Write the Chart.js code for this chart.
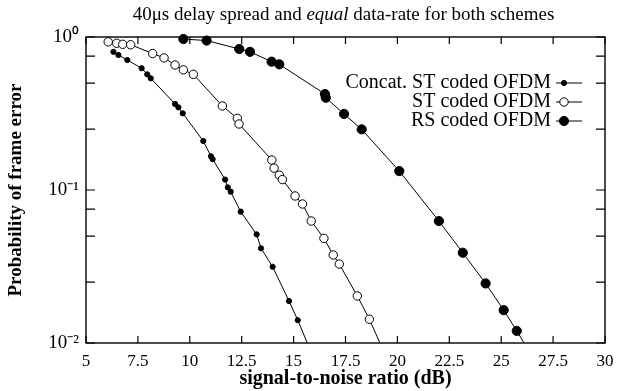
<!DOCTYPE html>
<html>
<head>
<meta charset="utf-8">
<script src="https://cdn.jsdelivr.net/npm/chart.js@4/dist/chart.umd.min.js"></script>
<style>
html,body{margin:0;padding:0;background:#fff;}
#wrap{width:622px;height:391px;position:relative;}
</style>
</head>
<body>
<div id="wrap"><canvas id="c" width="622" height="391"></canvas></div>
<script>
// ---- data ----
const concatSNR = [6.32, 6.56, 6.99, 7.68, 7.95, 8.12, 9.29, 9.45, 9.66, 10.65, 11.02, 11.10, 11.70, 11.83, 11.97, 12.45, 13.22, 13.43, 13.99, 14.78, 15.20];
const concatPFE = [0.80, 0.763, 0.707, 0.625, 0.570, 0.537, 0.365, 0.347, 0.317, 0.209, 0.166, 0.159, 0.117, 0.104, 0.0975, 0.0722, 0.0513, 0.0416, 0.0315, 0.0188, 0.0141];
const stSNR = [6.07, 6.48, 6.77, 7.15, 8.21, 8.76, 9.29, 9.69, 10.17, 11.57, 12.29, 12.37, 13.95, 14.06, 14.31, 14.46, 15.07, 15.43, 15.85, 16.46, 16.91, 17.20, 18.07, 18.65];
const stPFE = [0.93, 0.91, 0.896, 0.89, 0.78, 0.73, 0.656, 0.61, 0.57, 0.354, 0.294, 0.27, 0.157, 0.139, 0.125, 0.117, 0.0914, 0.081, 0.0627, 0.0483, 0.0376, 0.0328, 0.0203, 0.0143];
const rsSNR = [9.69, 10.81, 12.38, 12.90, 13.94, 14.31, 16.51, 16.55, 17.43, 18.28, 20.09, 22.00, 23.15, 24.25, 25.12, 25.75];
const rsPFE = [0.97, 0.948, 0.835, 0.80, 0.69, 0.663, 0.424, 0.401, 0.314, 0.249, 0.133, 0.0627, 0.0389, 0.0245, 0.0164, 0.012];
// where each fitted curve leaves the plot at the bottom edge (SNR at PFE = 0.01)
const curveEndSNR = [15.66, 19.16, 26.10];
const curveEndPFE = 0.01;

const seriesLabels = ['Concat. ST coded OFDM', 'ST coded OFDM', 'RS coded OFDM'];
const xTickValues = [5, 7.5, 10, 12.5, 15, 17.5, 20, 22.5, 25, 27.5, 30];
const yMajorTicks = [1, 0.1, 0.01];
const yMajorLabels = ['10\u2070', '10\u207B\u00B9', '10\u207B\u00B2'];
const yMinorTicks = [0.75, 0.5, 0.25, 0.075, 0.05, 0.025];
const titleParts = [
  { text: '40\u03BCs delay spread and ', italic: false },
  { text: 'equal', italic: true },
  { text: ' data-rate for both schemes', italic: false }
];
const xTitle = 'signal-to-noise ratio (dB)';
const yTitle = 'Probability of frame error';

// ---- styling ----
const FONT = "'Liberation Serif', 'Times New Roman', serif";
const markerStyles = [
  { r: 2.6, fill: '#000', bw: 1 },
  { r: 4.2, fill: '#fff', bw: 1 },
  { r: 4.6, fill: '#000', bw: 1 }
];

function makeSeries(i, xs, ys) {
  const pts = xs.map((x, k) => ({ x: x, y: ys[k] }));
  pts.push({ x: curveEndSNR[i], y: curveEndPFE });
  const st = markerStyles[i];
  const last = pts.length - 1;
  return {
    label: seriesLabels[i],
    data: pts,
    borderColor: '#000',
    borderWidth: 1,
    backgroundColor: st.fill,
    pointBackgroundColor: st.fill,
    pointBorderColor: '#000',
    pointBorderWidth: st.bw,
    pointRadius: ctx => (ctx.dataIndex === last ? 0 : st.r),
    pointHoverRadius: ctx => (ctx.dataIndex === last ? 0 : st.r),
    tension: 0,
    fill: false,
    clip: 8
  };
}

const framePlugin = {
  id: 'frame',
  afterDraw(chart) {
    const ctx = chart.ctx, a = chart.chartArea, x = chart.scales.x, y = chart.scales.y;
    ctx.save();
    ctx.strokeStyle = '#000';
    ctx.lineWidth = 1.4;
    ctx.strokeRect(a.left, a.top, a.right - a.left, a.bottom - a.top);
    ctx.lineWidth = 1.2;
    ctx.beginPath();
    xTickValues.forEach(v => {
      const px = x.getPixelForValue(v);
      ctx.moveTo(px, a.bottom); ctx.lineTo(px, a.bottom - 7);
      ctx.moveTo(px, a.top); ctx.lineTo(px, a.top + 7);
    });
    yMajorTicks.concat(yMinorTicks).forEach(v => {
      const py = y.getPixelForValue(v);
      ctx.moveTo(a.left, py); ctx.lineTo(a.left + 9, py);
      ctx.moveTo(a.right, py); ctx.lineTo(a.right - 9, py);
    });
    ctx.stroke();

    // legend (text left of the line sample, gnuplot style)
    const textRight = 551, lineL = 556, lineR = 582, markX = 564;
    const rowsY = [83, 102, 121];
    ctx.font = '20px ' + FONT;
    ctx.fillStyle = '#000';
    ctx.textAlign = 'right';
    ctx.textBaseline = 'middle';
    chart.data.datasets.forEach((ds, i) => {
      const yy = rowsY[i];
      ctx.fillText(ds.label, textRight, yy);
      ctx.beginPath();
      ctx.lineWidth = 1;
      ctx.moveTo(lineL, yy); ctx.lineTo(lineR, yy);
      ctx.stroke();
      const st = markerStyles[i];
      ctx.beginPath();
      ctx.arc(markX, yy, st.r, 0, Math.PI * 2);
      ctx.fillStyle = st.fill;
      ctx.fill();
      ctx.lineWidth = st.bw;
      ctx.stroke();
      ctx.fillStyle = '#000';
    });

    // title with an italic word
    const cx = (a.left + a.right) / 2 - 2, ty = 15;
    const fontN = '19px ' + FONT, fontI = 'italic 19px ' + FONT;
    let total = 0;
    titleParts.forEach(p => { ctx.font = p.italic ? fontI : fontN; total += ctx.measureText(p.text).width; });
    let xx = cx - total / 2;
    ctx.textAlign = 'left';
    titleParts.forEach(p => {
      ctx.font = p.italic ? fontI : fontN;
      ctx.fillText(p.text, xx, ty);
      xx += ctx.measureText(p.text).width;
    });
    ctx.restore();
  }
};

new Chart(document.getElementById('c'), {
  type: 'line',
  data: {
    datasets: [
      makeSeries(0, concatSNR, concatPFE),
      makeSeries(1, stSNR, stPFE),
      makeSeries(2, rsSNR, rsPFE)
    ]
  },
  options: {
    responsive: false,
    animation: false,
    events: [],
    layout: { padding: { top: 37, right: 17, left: 0, bottom: 0 } },
    plugins: { legend: { display: false }, title: { display: false }, tooltip: { enabled: false } },
    scales: {
      x: {
        type: 'linear', min: 5, max: 30,
        grid: { display: false, drawTicks: false },
        border: { display: false },
        afterBuildTicks: s => { s.ticks = xTickValues.map(v => ({ value: v })); },
        afterFit: s => { s.height = 48; },
        ticks: { font: { family: FONT, size: 17 }, color: '#000', padding: 8, autoSkip: false, maxRotation: 0,
                 callback: v => String(v) },
        title: { display: true, text: xTitle, color: '#000', font: { family: FONT, size: 20, weight: 'bold' },
                 padding: { top: 0, bottom: 0 } }
      },
      y: {
        type: 'logarithmic', min: 0.01, max: 1,
        grid: { display: false, drawTicks: false },
        border: { display: false },
        afterBuildTicks: s => { s.ticks = yMajorTicks.map(v => ({ value: v })); },
        afterFit: s => { s.width = 86; },
        ticks: { font: { family: FONT, size: 19 }, color: '#000', padding: 7, autoSkip: false,
                 callback: v => { const k = yMajorTicks.findIndex(t => Math.abs(t - v) < 1e-9); return k >= 0 ? yMajorLabels[k] : ''; } },
        title: { display: true, text: yTitle, color: '#000', font: { family: FONT, size: 19, weight: 'bold' },
                 padding: { top: 5, bottom: 0 } }
      }
    }
  },
  plugins: [framePlugin]
});
</script>
</body>
</html>
